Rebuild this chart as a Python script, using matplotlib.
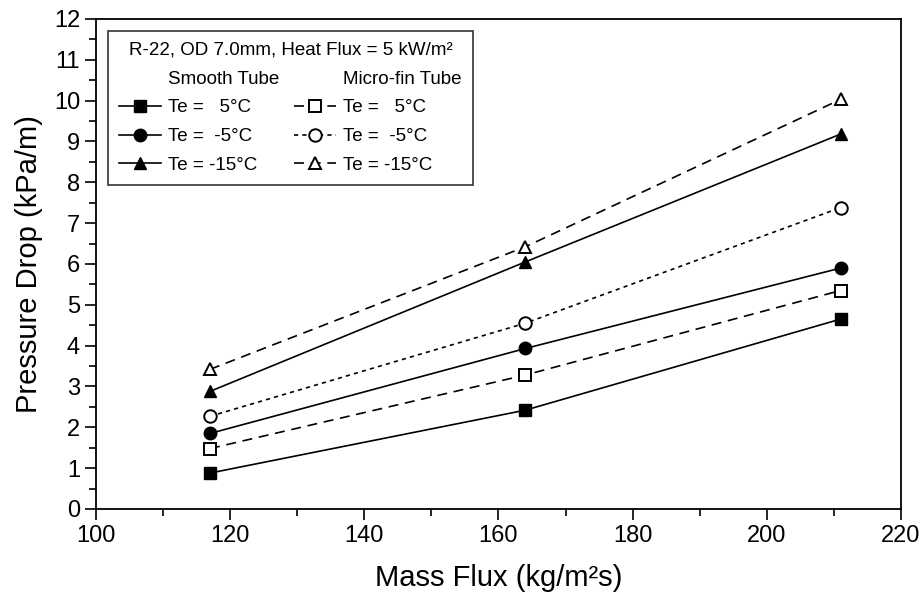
import matplotlib
matplotlib.use("Agg")
import matplotlib.pyplot as plt
from matplotlib.lines import Line2D
from matplotlib.ticker import MultipleLocator

plt.rcParams['font.family'] = ['Liberation Sans', 'DejaVu Sans']

# data
mass_flux = [117, 164, 211]
smooth_5 = [0.88, 2.42, 4.65]
smooth_m5 = [1.85, 3.93, 5.90]
smooth_m15 = [2.88, 6.05, 9.18]
micro_5 = [1.48, 3.28, 5.35]
micro_m5 = [2.27, 4.55, 7.38]
micro_m15 = [3.42, 6.42, 10.03]

labels = ["Te =   5°C", "Te =  -5°C", "Te = -15°C"]

fig = plt.figure(figsize=(9.24, 6.05), dpi=100)
ax = fig.add_axes([0.1039, 0.1587, 0.8712, 0.81])

ms = 9
lw = 1.2
smooth_styles = [('s', smooth_5), ('o', smooth_m5), ('^', smooth_m15)]
micro_styles = [('s', micro_5, (0, (6, 4))), ('o', micro_m5, (0, (2.5, 2.5))),
                ('^', micro_m15, (0, (6, 4)))]

h_smooth = []
for (mk, ys), lab in zip(smooth_styles, labels):
    h, = ax.plot(mass_flux, ys, color='black', lw=lw, ls='-', marker=mk,
                 ms=ms, mfc='black', mec='black', label=lab)
    h_smooth.append(h)

h_micro = []
for (mk, ys, ls), lab in zip(micro_styles, labels):
    h, = ax.plot(mass_flux, ys, color='black', lw=lw, ls=ls, marker=mk,
                 ms=ms, mfc='white', mec='black', mew=1.4, label=lab)
    h_micro.append(h)

ax.set_xlim(100, 220)
ax.set_ylim(0, 12)
ax.xaxis.set_major_locator(MultipleLocator(20))
ax.xaxis.set_minor_locator(MultipleLocator(10))
ax.yaxis.set_major_locator(MultipleLocator(1))
ax.yaxis.set_minor_locator(MultipleLocator(0.5))
ax.tick_params(which='major', direction='out', length=8, width=1.2, labelsize=17)
ax.tick_params(which='minor', direction='out', length=5, width=1.2)
for sp in ax.spines.values():
    sp.set_linewidth(1.3)

ax.set_xlabel("Mass Flux (kg/m²s)", fontsize=21, labelpad=12)
ax.set_ylabel("Pressure Drop (kPa/m)", fontsize=21, labelpad=8)

blank = Line2D([], [], color='none')
handles = [blank] + h_smooth + [blank] + h_micro
leg_labels = ["Smooth Tube"] + labels + ["Micro-fin Tube"] + labels
leg = ax.legend(handles, leg_labels, ncol=2, loc='upper left',
                bbox_to_anchor=(0.015, 0.976), borderaxespad=0,
                title="R-22, OD 7.0mm, Heat Flux = 5 kW/m²",
                title_fontsize=13.5, fontsize=13.5, frameon=True, fancybox=False,
                edgecolor='black', handlelength=2.2, handletextpad=0.4,
                columnspacing=0.8, labelspacing=0.62, borderpad=0.6)
leg.get_frame().set_linewidth(1.2)

fig.savefig("out.png", dpi=100)
